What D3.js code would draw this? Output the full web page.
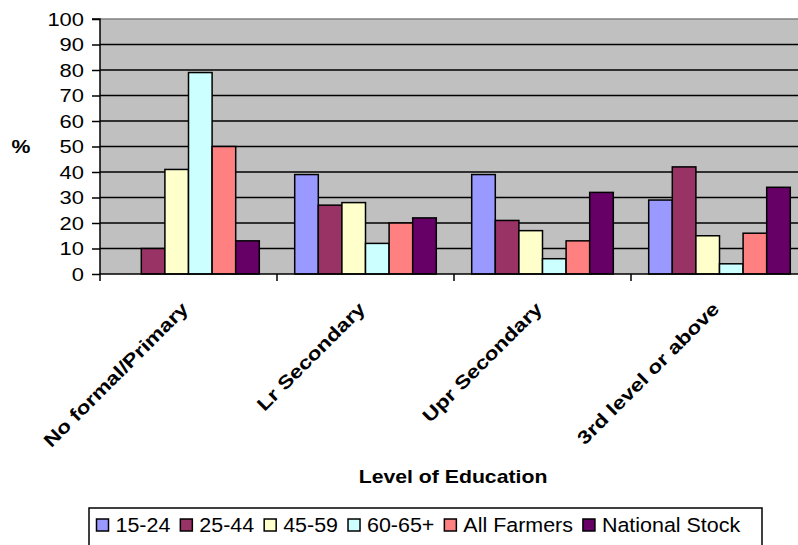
<!DOCTYPE html>
<html>
<head>
<meta charset="utf-8">
<script src="https://cdn.jsdelivr.net/npm/d3@7"></script>
<style>
  body { margin: 0; background: #fff; }
  svg { display: block; font-family: "Liberation Sans", Arial, sans-serif; }
</style>
</head>
<body>
<svg id="chart" width="798" height="545"></svg>
<script>
// Education level by age group (percent)
const categories = ["No formal/Primary", "Lr Secondary", "Upr Secondary", "3rd level or above"];
const seriesNames = ["15-24", "25-44", "45-59", "60-65+", "All Farmers", "National Stock"];
const seriesColors = ["#9999FF", "#993366", "#FFFFCC", "#CCFFFF", "#FF8080", "#660066"];
const age15to24 = [0, 39, 39, 29];
const age25to44 = [10, 27, 21, 42];
const age45to59 = [41, 28, 17, 15];
const age60to65 = [79, 12, 6, 4];
const allFarmers = [50, 20, 13, 16];
const nationalStock = [13, 22, 32, 34];
const yTicks = [0, 10, 20, 30, 40, 50, 60, 70, 80, 90, 100];
const yLabel = "%";
const xLabel = "Level of Education";

const seriesValues = [age15to24, age25to44, age45to59, age60to65, allFarmers, nationalStock];
const rows = categories.map((c, i) => ({
  category: c,
  values: seriesNames.map((s, j) => ({ series: s, value: seriesValues[j][i], color: seriesColors[j] }))
}));

const svg = d3.select("#chart");
const plot = { left: 100, top: 19, right: 808, bottom: 274 };

const x0 = d3.scaleBand().domain(categories).range([plot.left, plot.right]).paddingInner(0).paddingOuter(0);
const x1 = d3.scaleBand().domain(seriesNames).range([0, x0.bandwidth()]).paddingInner(0).paddingOuter(0.75);
const y = d3.scaleLinear().domain([0, 100]).range([plot.bottom, plot.top]);

// plot background
svg.append("rect")
  .attr("x", plot.left).attr("y", plot.top)
  .attr("width", plot.right - plot.left).attr("height", plot.bottom - plot.top)
  .attr("fill", "#C0C0C0");

// gridlines
svg.append("g").selectAll("line")
  .data(yTicks.filter(t => t > 0 && t < 100))
  .join("line")
  .attr("x1", plot.left).attr("x2", plot.right)
  .attr("y1", d => y(d)).attr("y2", d => y(d))
  .attr("stroke", "#000").attr("stroke-width", 1.5);

// top border of plot area
svg.append("line")
  .attr("x1", plot.left).attr("x2", plot.right)
  .attr("y1", y(100)).attr("y2", y(100))
  .attr("stroke", "#808080").attr("stroke-width", 1.5);

// bars
const groups = svg.append("g").selectAll("g")
  .data(rows).join("g")
  .attr("transform", d => `translate(${x0(d.category)},0)`);

groups.selectAll("rect")
  .data(d => d.values.filter(v => v.value > 0))
  .join("rect")
  .attr("x", d => x1(d.series))
  .attr("y", d => y(d.value))
  .attr("width", x1.bandwidth())
  .attr("height", d => y(0) - y(d.value))
  .attr("fill", d => d.color)
  .attr("stroke", "#000").attr("stroke-width", 1.5);

// y axis
const yAxis = d3.axisLeft(y).tickValues(yTicks).tickSize(8).tickPadding(7).tickFormat(d3.format("d"));
const gy = svg.append("g").attr("transform", `translate(${plot.left},0)`).call(yAxis);
gy.select(".domain").attr("stroke", "#000").attr("stroke-width", 1.5).attr("d", `M-8,${y(100)}H0V${y(0)}`);
gy.selectAll(".tick line").attr("stroke", "#000").attr("stroke-width", 1.5);
gy.selectAll(".tick text")
  .attr("font-size", 18).attr("fill", "#000")
  .attr("font-family", "'Liberation Sans', Arial, sans-serif")
  .attr("x", null).attr("dy", "0.35em")
  .attr("transform", "translate(-16,0) scale(1.22,1)");

// x axis: ticks on category boundaries
const xBoundaries = categories.map(c => x0(c)).concat([x0.range()[1]]);
const gx = svg.append("g");
gx.append("line")
  .attr("x1", plot.left - 0.75).attr("x2", plot.right)
  .attr("y1", plot.bottom).attr("y2", plot.bottom)
  .attr("stroke", "#000").attr("stroke-width", 1.5);
gx.selectAll("line.tick")
  .data(xBoundaries).join("line").attr("class", "tick")
  .attr("x1", d => d).attr("x2", d => d)
  .attr("y1", plot.bottom).attr("y2", plot.bottom + 7)
  .attr("stroke", "#000").attr("stroke-width", 1.5);

// category labels rotated -45
gx.selectAll("text")
  .data(categories).join("text")
  .attr("transform", d => `translate(${x0(d) + x0.bandwidth() / 2 + 1},${plot.bottom + 36}) rotate(-45) scale(1.22,1)`)
  .attr("text-anchor", "end")
  .attr("font-size", 18.5).attr("font-weight", "bold").attr("fill", "#000")
  .text(d => d);

// axis titles
svg.append("text")
  .attr("transform", `translate(21,${(plot.top + plot.bottom) / 2 + 6}) scale(1.18,1)`)
  .attr("text-anchor", "middle")
  .attr("font-size", 18).attr("font-weight", "bold")
  .text(yLabel);

svg.append("text")
  .attr("transform", `translate(${(plot.left + plot.right) / 2 - 1},483) scale(1.18,1)`)
  .attr("text-anchor", "middle")
  .attr("font-size", 18).attr("font-weight", "bold")
  .text(xLabel);

// legend
const legend = svg.append("g");
legend.append("rect")
  .attr("x", 89).attr("y", 508).attr("width", 673).attr("height", 60)
  .attr("fill", "#fff").attr("stroke", "#000").attr("stroke-width", 1.5);

const legendScale = 1.1;
let lx = 96.5;
seriesNames.forEach((s, i) => {
  const item = legend.append("g");
  item.append("rect")
    .attr("x", lx).attr("y", 519).attr("width", 12).attr("height", 12)
    .attr("fill", seriesColors[i]).attr("stroke", "#000").attr("stroke-width", 1.5);
  const t = item.append("text")
    .attr("transform", `translate(${lx + 19},532) scale(${legendScale},1)`)
    .attr("font-size", 19.5).attr("fill", "#000")
    .text(s);
  const w = t.node().getComputedTextLength() * legendScale;
  lx += 19 + w + 10;
});
</script>
</body>
</html>
